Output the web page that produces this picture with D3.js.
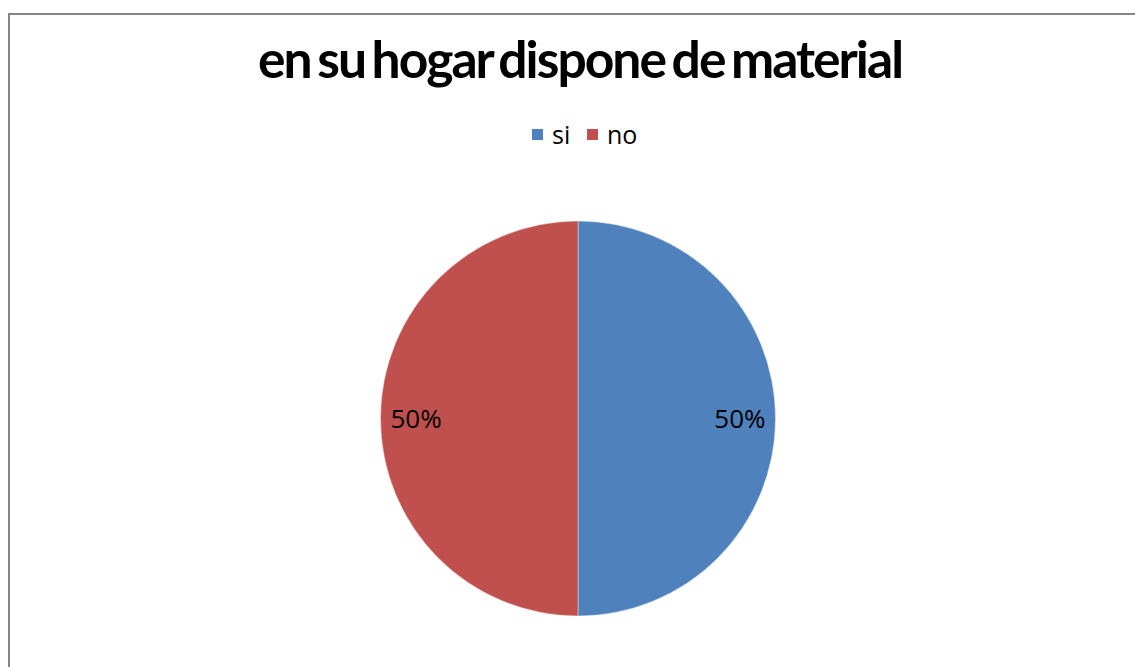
<!DOCTYPE html>
<html><head><meta charset="utf-8">
<script src="https://cdn.jsdelivr.net/npm/d3@7"></script>
<style>html,body{margin:0;padding:0;background:#fff;overflow:hidden}</style>
</head><body>
<svg id="c" width="1135" height="667"></svg>
<script>
const title = "en su hogar dispone de material";
const categories = ["si", "no"];
const values = [50, 50];
const colors = ["#4F81BD", "#C0504D"];

const svg = d3.select("#c");
// chart border
svg.append("rect").attr("x", 9).attr("y", 14).attr("width", 1200).attr("height", 700)
  .attr("fill", "none").attr("stroke", "#868686").attr("stroke-width", 2);

svg.append("text").attr("x", 580).attr("y", 78).attr("text-anchor", "middle")
  .attr("font-family", "Lato").attr("font-weight", "bold").attr("font-size", 52)
  .attr("letter-spacing", -2).attr("word-spacing", -4)
  .attr("textLength", 644).attr("lengthAdjust", "spacingAndGlyphs")
  .attr("fill", "#000").text(title);

// legend
const leg = svg.append("g");
const legX = [532, 587];
categories.forEach((c, i) => {
  leg.append("rect").attr("x", legX[i]).attr("y", 129).attr("width", 11).attr("height", 11).attr("fill", colors[i]);
  leg.append("text").attr("x", legX[i] + 20).attr("y", 144).attr("font-family", "Open Sans")
    .attr("font-size", 25).attr("fill", "#000").text(c);
});

const cx = 578, cy = 418.5, r = 197.5;
const pie = d3.pie().sort(null).value(d => d)(values);
const arc = d3.arc().innerRadius(0).outerRadius(r);
const labelArc = d3.arc().innerRadius(r * 0.82).outerRadius(r * 0.82);
const total = d3.sum(values);
const g = svg.append("g").attr("transform", `translate(${cx},${cy})`);
g.selectAll("path").data(pie).join("path").attr("d", arc)
  .attr("fill", (d, i) => colors[i]).attr("stroke", "#fff").attr("stroke-width", 0.7).attr("stroke-opacity", 0.6);
g.selectAll("text").data(pie).join("text")
  .attr("transform", d => `translate(${labelArc.centroid(d)})`)
  .attr("text-anchor", "middle").attr("dy", "0.36em")
  .attr("font-family", "Open Sans").attr("font-size", 26).attr("fill", "#000")
  .text(d => Math.round(d.value / total * 100) + "%");
</script>
</body></html>
